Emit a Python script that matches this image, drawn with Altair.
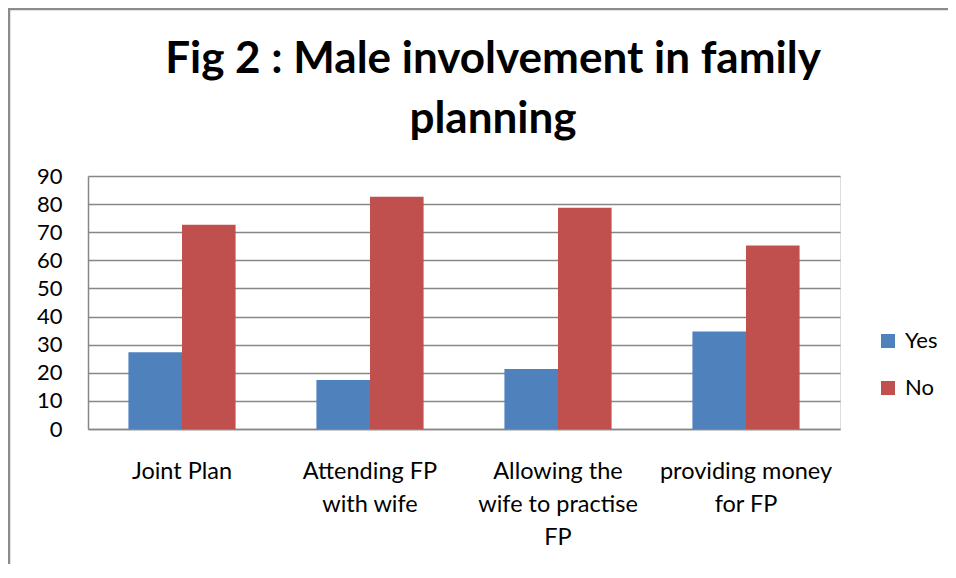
import altair as alt
import pandas as pd

# ---- data ----
label_lines = [
    ["Joint Plan"],
    ["Attending FP", "with wife"],
    ["Allowing the", "wife to practise", "FP"],
    ["providing money", "for FP"],
]
categories = [" ".join(l) for l in label_lines]
series = ["Yes", "No"]
yes_values = [27.3, 17.4, 21.3, 34.7]
no_values = [72.7, 82.6, 78.7, 65.3]
y_ticks = [0, 10, 20, 30, 40, 50, 60, 70, 80, 90]

rows = []
for c, y, n in zip(categories, yes_values, no_values):
    rows.append({"category": c, "response": "Yes", "value": y})
    rows.append({"category": c, "response": "No", "value": n})
df = pd.DataFrame(rows)

# label expression for multi-line x labels
expr = "datum.label"
for c, lines in reversed(list(zip(categories, label_lines))):
    arr = "[" + ",".join("'" + s + "'" for s in lines) + "]"
    expr = f"datum.label == '{c}' ? {arr} : ({expr})"

W, H = 752, 253
PAD_L, PAD_T, PAD_R, PAD_B = 80, 168, 108, 135
GRAY = "#878787"
FONT = "Lato"

bars = alt.Chart(df).mark_bar().encode(
    x=alt.X("category:N", sort=categories, title=None,
            scale=alt.Scale(paddingInner=0.43, paddingOuter=0.215),
            axis=alt.Axis(labelAngle=0, labelExpr=expr, ticks=False,
                          labelFontSize=23.5, labelFont=FONT, labelColor="black",
                          labelLineHeight=33, labelPadding=30, labelLimit=300,
                          domainColor=GRAY, domainWidth=1.5, grid=False)),
    xOffset=alt.XOffset("response:N", sort=series, scale=alt.Scale(paddingInner=0, paddingOuter=0)),
    y=alt.Y("value:Q", title=None,
            scale=alt.Scale(domain=[0, 90], nice=False),
            axis=alt.Axis(values=y_ticks, ticks=False, labelFontSize=22, labelFont=FONT,
                          labelColor="black", labelPadding=26,
                          domainColor=GRAY, domainWidth=1.5,
                          gridColor=GRAY, gridWidth=1.4, gridOpacity=1)),
    color=alt.Color("response:N", sort=series,
                    scale=alt.Scale(domain=series, range=["#4F81BD", "#C0504D"]),
                    legend=alt.Legend(title=None, orient="none", legendX=789, legendY=154,
                                      symbolType="square", symbolSize=196, symbolStrokeWidth=0,
                                      labelFontSize=22, labelFont=FONT, labelColor="black",
                                      rowPadding=25, padding=0, labelOffset=6)),
)

border = alt.Chart(pd.DataFrame({"a": [0]})).mark_rect(
    fill=None, stroke="#8c8c8c", strokeWidth=2.5
).encode(
    x=alt.value(-PAD_L + 1), x2=alt.value(W + PAD_R + 20),
    y=alt.value(-PAD_T + 1), y2=alt.value(H + PAD_B + 20),
)

chart = alt.layer(bars, border).properties(
    width=W, height=H,
    autosize=alt.AutoSizeParams(type="none"),
    padding={"left": PAD_L, "top": PAD_T, "right": PAD_R, "bottom": PAD_B},
    title=alt.TitleParams(
        text=["Fig 2 : Male involvement in family", "planning"],
        fontSize=44, font=FONT, fontWeight="bold", color="black",
        lineHeight=60, anchor="middle", dx=29, offset=-169, baseline="alphabetic",
    ),
).configure_view(stroke=None).configure(background="white")

chart.save("out.html", embed_options={"renderer": "svg", "actions": False})
